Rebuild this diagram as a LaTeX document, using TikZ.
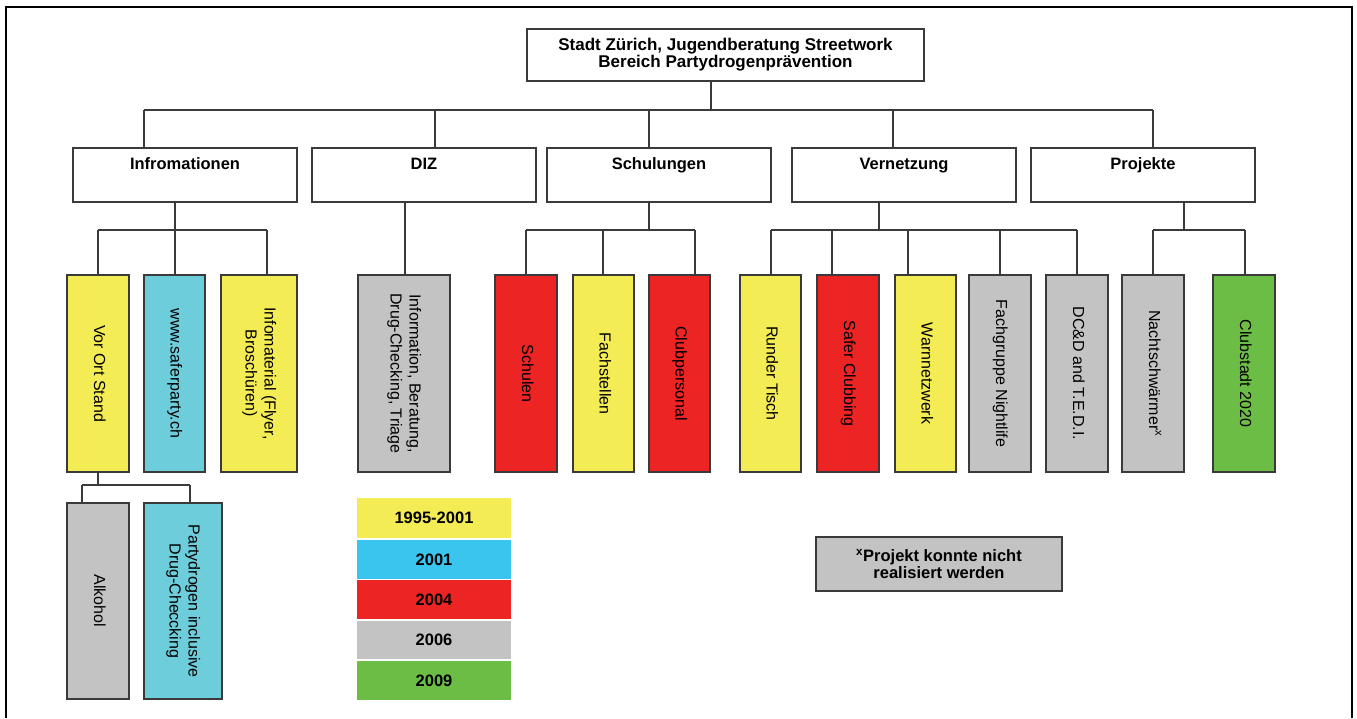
\documentclass[tikz,border=0pt]{standalone}
\usepackage{fontspec}
\setmainfont{Liberation Sans}
\usepackage{graphicx}
\definecolor{cyel}{HTML}{F4EC55}
\definecolor{ccyan}{HTML}{6DCDDB}
\definecolor{ccyanleg}{HTML}{3AC5EE}
\definecolor{cred}{HTML}{EC2424}
\definecolor{cgray}{HTML}{C3C3C3}
\definecolor{cgreen}{HTML}{6CBD45}
\definecolor{cline}{HTML}{3A3A3A}
\newcommand\myvt[1]{\rotatebox{-90}{\begin{tabular}{@{}c@{}}#1\end{tabular}}}
\begin{document}
\begin{tikzpicture}[x=1pt,y=-1pt,
  every node/.style={font=\fontsize{16}{19}\selectfont, text=black},
  box/.style={draw=cline, line width=1.3pt, inner sep=0pt, outer sep=0pt},
  vbox/.style={box, minimum width=#1, minimum height=197},
  subbox/.style={box, minimum width=#1, minimum height=196},
  lvl/.style={box, fill=white, minimum width=224, minimum height=54},
  lvltext/.style={anchor=base, inner sep=0pt, font=\fontsize{16.5}{19}\selectfont\bfseries},
  leg/.style={inner sep=0pt, outer sep=0pt, minimum width=154, font=\fontsize{16.5}{19}\selectfont\bfseries},
  conn/.style={draw=cline, line width=1.2pt},
]
\useasboundingbox (0,0) rectangle (1357,718);
% frame
\draw[line width=1.3pt, draw=black] (6,718) -- (6,7) -- (1352,7) -- (1352,718);

% top box
\node[box, fill=white, minimum width=397, minimum height=52, align=center,
      font=\fontsize{17}{17}\selectfont\bfseries] (top) at (725.5,55)
  {Stadt Zürich, Jugendberatung Streetwork\\Bereich Partydrogenprävention};

% level 2
\node[lvl] (inf) at (185,175) {};
\node[lvl] (diz) at (424,175) {};
\node[lvl] (sch) at (659,175) {};
\node[lvl] (ver) at (904,175) {};
\node[lvl] (pro) at (1143,175) {};
\node[lvltext] (inft) at ([yshift=-21pt]inf.north) {Infromationen};
\node[lvltext] (dizt) at ([yshift=-21pt]diz.north) {DIZ};
\node[lvltext] (scht) at ([yshift=-21pt]sch.north) {Schulungen};
\node[lvltext] (vert) at ([yshift=-21pt]ver.north) {Vernetzung};
\node[lvltext] (prot) at ([yshift=-21pt]pro.north) {Projekte};

% level 3
\node[vbox=62, fill=cyel]   (vor)   at (98,373.5)   {\myvt{Vor Ort Stand}};
\node[vbox=61, fill=ccyan]  (www)   at (174.5,373.5) {\myvt{www.saferparty.ch}};
\node[vbox=76, fill=cyel]   (infm)  at (259,373.5)  {\myvt{Infomaterial (Flyer,\\Broschüren)}};
\node[vbox=92, fill=cgray]  (dizc)  at (404,373.5)  {\myvt{Information, Beratung,\\Drug-Checking, Triage}};
\node[vbox=62, fill=cred]   (schu)  at (526,373.5)  {\myvt{Schulen}};
\node[vbox=61, fill=cyel]   (fach)  at (603.5,373.5) {\myvt{Fachstellen}};
\node[vbox=61, fill=cred]   (club)  at (679.5,373.5) {\myvt{Clubpersonal}};
\node[vbox=61, fill=cyel]   (rund)  at (770.5,373.5) {\myvt{Runder Tisch}};
\node[vbox=62, fill=cred]   (safe)  at (848,373.5)  {\myvt{Safer Clubbing}};
\node[vbox=61, fill=cyel]   (warn)  at (925.5,373.5) {\myvt{Warnnetzwerk}};
\node[vbox=62, fill=cgray]  (fgn)   at (1000,373.5) {\myvt{Fachgruppe Nightlife}};
\node[vbox=62, fill=cgray]  (dcd)   at (1077,373.5) {\myvt{DC\&D and T.E.D.I.}};
\node[vbox=62, fill=cgray]  (nacht) at (1153,373.5) {\myvt{Nachtschwärmer\textsuperscript{x}}};
\node[vbox=62, fill=cgreen] (cstad) at (1244,373.5) {\myvt{Clubstadt 2020}};

% level 4
\node[subbox=62, fill=cgray] (alk)  at (98,601)  {\myvt{Alkohol}};
\node[subbox=78, fill=ccyan] (pdr)  at (183,601) {\myvt{Partydrogen inclusive\\Drug-Checcking}};

% legend
\node[leg, fill=cyel,     minimum height=40] (l1) at (434,518)   {1995-2001};
\node[leg, fill=ccyanleg, minimum height=39] (l2) at (434,559.5) {2001};
\node[leg, fill=cred,     minimum height=39] (l3) at (434,599.5) {2004};
\node[leg, fill=cgray,    minimum height=38] (l4) at (434,640)   {2006};
\node[leg, fill=cgreen,   minimum height=39] (l5) at (434,680.5) {2009};

% footnote
\node[box, fill=cgray, minimum width=246, minimum height=54, align=center,
      font=\fontsize{16.5}{17}\selectfont\bfseries] (fn) at (939,564)
  {\textsuperscript{x}Projekt konnte nicht\\realisiert werden};

% ---- connectors ----
% top level bus
\coordinate (tj) at (711,110);
\coordinate (ta) at (144,110);
\coordinate (tb) at (435,110);
\coordinate (tc) at (649,110);
\coordinate (td) at (893,110);
\coordinate (te) at (1153,110);
\draw[conn] (top.south -| tj) -- (tj);
\draw[conn] (ta) -- (te);
\draw[conn] (ta) -- (ta |- inf.north);
\draw[conn] (tb) -- (tb |- diz.north);
\draw[conn] (tc) -- (tc |- sch.north);
\draw[conn] (td) -- (td |- ver.north);
\draw[conn] (te) -- (te |- pro.north);

% Infromationen
\coordinate (ij) at (175,230);
\coordinate (ia) at (98,230);
\coordinate (ib) at (175,230);
\coordinate (ic) at (267,230);
\draw[conn] (inf.south -| ij) -- (ij);
\draw[conn] (ia) -- (ic);
\draw[conn] (ia) -- (ia |- vor.north);
\draw[conn] (ib) -- (ib |- www.north);
\draw[conn] (ic) -- (ic |- infm.north);

% DIZ
\coordinate (dj) at (405,230);
\draw[conn] (diz.south -| dj) -- (dj |- dizc.north);

% Schulungen
\coordinate (sj) at (649,230);
\coordinate (sa) at (526,230);
\coordinate (sb) at (603,230);
\coordinate (sc) at (695,230);
\draw[conn] (sch.south -| sj) -- (sj);
\draw[conn] (sa) -- (sc);
\draw[conn] (sa) -- (sa |- schu.north);
\draw[conn] (sb) -- (sb |- fach.north);
\draw[conn] (sc) -- (sc |- club.north);

% Vernetzung
\coordinate (vj) at (879,230);
\coordinate (va) at (771,230);
\coordinate (vb) at (832,230);
\coordinate (vc) at (908,230);
\coordinate (vd) at (1000,230);
\coordinate (ve) at (1077,230);
\draw[conn] (ver.south -| vj) -- (vj);
\draw[conn] (va) -- (ve);
\draw[conn] (va) -- (va |- rund.north);
\draw[conn] (vb) -- (vb |- safe.north);
\draw[conn] (vc) -- (vc |- warn.north);
\draw[conn] (vd) -- (vd |- fgn.north);
\draw[conn] (ve) -- (ve |- dcd.north);

% Projekte
\coordinate (pj) at (1184,230);
\coordinate (pa) at (1153,230);
\coordinate (pb) at (1245,230);
\draw[conn] (pro.south -| pj) -- (pj);
\draw[conn] (pa) -- (pb);
\draw[conn] (pa) -- (pa |- nacht.north);
\draw[conn] (pb) -- (pb |- cstad.north);

% Vor Ort Stand sub
\coordinate (oj) at (98,485);
\coordinate (oa) at (82,485);
\coordinate (ob) at (190,485);
\draw[conn] (vor.south) -- (oj);
\draw[conn] (oa) -- (ob);
\draw[conn] (oa) -- (oa |- alk.north);
\draw[conn] (ob) -- (ob |- pdr.north);
\end{tikzpicture}
\end{document}
